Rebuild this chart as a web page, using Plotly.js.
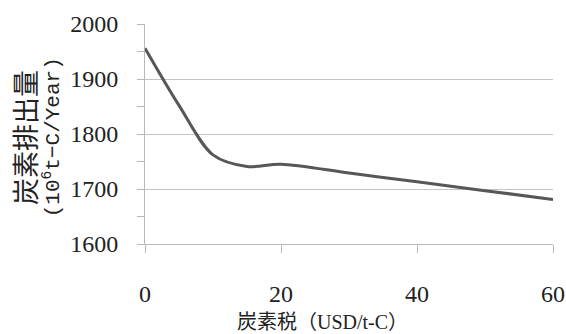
<!DOCTYPE html>
<html>
<head>
<meta charset="utf-8">
<script src="https://cdn.plot.ly/plotly-3.0.1.min.js"></script>
<style>html,body{margin:0;padding:0;background:#fff;}#chart{width:566px;height:334px;}</style>
</head>
<body>
<div id="chart"></div>
<script>
const carbonTax = [0, 5, 10, 15, 20, 30, 40, 50, 60];
const emissions = [1956, 1852, 1762, 1741, 1745, 1729, 1713, 1697, 1681];
const xTicks = [0, 20, 40, 60];
const yTicks = [1600, 1700, 1800, 1900, 2000];
const xTitle = '炭素税（USD/t-C）';
const yTitleLine1 = '炭素排出量';
const yTitleLine2 = '(10<sup>6</sup>t−C/Year)';

const serif = 'Liberation Serif, Times New Roman, Noto Sans CJK JP, serif';
const mono = 'Liberation Mono, Courier New, monospace';

const trace = {
  x: carbonTax,
  y: emissions,
  type: 'scatter',
  mode: 'lines',
  line: {color: '#575757', width: 3, shape: 'spline', smoothing: 0.9},
  hoverinfo: 'x+y'
};

const layout = {
  width: 566, height: 334,
  margin: {l: 145, r: 13, t: 24, b: 90},
  paper_bgcolor: '#fff', plot_bgcolor: '#fff',
  showlegend: false,
  xaxis: {
    range: [0, 60], tickvals: xTicks, ticktext: xTicks.map(String),
    showgrid: false, zeroline: false,
    showline: true, linecolor: '#b8b8b8', linewidth: 1,
    ticks: 'outside', ticklen: 8, tickcolor: '#b8b8b8', tickwidth: 1,
    ticklabelstandoff: 20,
    tickfont: {family: serif, size: 24, color: '#222'}
  },
  yaxis: {
    range: [1600, 2000], tickvals: yTicks, ticktext: yTicks.map(String),
    showgrid: true, gridcolor: '#c4c4c4', gridwidth: 1,
    zeroline: false,
    showline: true, linecolor: '#b8b8b8', linewidth: 1,
    ticks: 'outside', ticklen: 7, tickcolor: '#b8b8b8', tickwidth: 1,
    minor: {dtick: 50, ticks: 'outside', ticklen: 7, tickcolor: '#b8b8b8', showgrid: false},
    ticklabelstandoff: 14,
    tickfont: {family: serif, size: 24, color: '#222'}
  },
  annotations: [
    {
      text: xTitle, xref: 'paper', yref: 'paper', x: 0.434, y: -0.355,
      xanchor: 'center', yanchor: 'middle', showarrow: false,
      font: {family: serif, size: 20, color: '#222'}
    },
    {
      text: yTitleLine1, xref: 'paper', yref: 'paper', x: -0.297, y: 0.485,
      xanchor: 'center', yanchor: 'middle', showarrow: false, textangle: -90,
      font: {family: 'Noto Sans CJK JP, sans-serif', size: 27, color: '#222'}
    },
    {
      text: yTitleLine2, xref: 'paper', yref: 'paper', x: -0.228, y: 0.485,
      xanchor: 'center', yanchor: 'middle', showarrow: false, textangle: -90,
      font: {family: mono, size: 21, color: '#222'}
    }
  ]
};

Plotly.newPlot('chart', [trace], layout, {displayModeBar: false, staticPlot: true});
</script>
</body>
</html>
